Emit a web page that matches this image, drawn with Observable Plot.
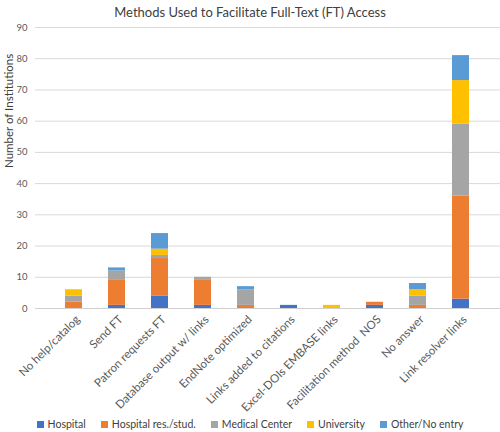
<!DOCTYPE html>
<html><head><meta charset="utf-8">
<script src="https://cdn.jsdelivr.net/npm/d3@7"></script>
<script src="https://cdn.jsdelivr.net/npm/@observablehq/plot@0.6"></script>
<style>
body{margin:0;background:#fff;font-family:Lato,"Open Sans",sans-serif;}
#wrap{width:500px;height:432px;position:relative;overflow:hidden;}
#title{height:22px;line-height:24px;text-align:center;font-size:13px;color:#404040;}
#legend{display:flex;justify-content:center;gap:15px;font-size:10.5px;color:#404040;margin-top:1px;}
#legend span.sw{display:inline-block;width:7px;height:7px;margin-right:4px;vertical-align:0px;}
</style></head>
<body><div id="wrap"><div id="title">Methods Used to Facilitate Full-Text (FT) Access</div><div id="chart"></div><div id="legend"></div></div>
<script>
const categories = ["No help/catalog","Send FT","Patron requests FT","Database output w/ links","EndNote optimized","Links added to citations","Excel-DOIs EMBASE links","Facilitation method  NOS","No answer","Link resolver links"];
const seriesNames = ["Hospital","Hospital res./stud.","Medical Center","University","Other/No entry"];
const seriesColors = ["#4472C4","#ED7D31","#A5A5A5","#FFC000","#5B9BD5"];
const hospital    = [0,1,4,1,0,1,0,1,0,3];
const hospitalRes = [2,8,12,8,1,0,0,1,1,33];
const medical     = [2,3,1,1,5,0,0,0,3,23];
const university  = [2,0,2,0,0,0,1,0,2,14];
const other       = [0,1,5,0,1,0,0,0,2,8];
const yTicks = [0,10,20,30,40,50,60,70,80,90];

const seriesValues = [hospital, hospitalRes, medical, university, other];
const data = [];
categories.forEach((c,i)=>seriesNames.forEach((s,j)=>data.push({category:c, series:s, value:seriesValues[j][i]})));

const chart = Plot.plot({
  width:500, height:395,
  marginTop:5, marginLeft:35, marginRight:0, marginBottom:109,
  style:{fontFamily:"Lato, 'Open Sans', sans-serif", fontSize:"10px", color:"#595959", overflow:"visible"},
  x:{domain:categories, padding:0.6, label:null},
  y:{domain:[0,90], label:null},
  color:{domain:seriesNames, range:seriesColors},
  marks:[
    Plot.gridY(yTicks,{stroke:"#d9d9d9", strokeOpacity:1}),
    Plot.ruleY([0],{stroke:"#d0d0d0"}),
    Plot.barY(data,{x:"category", y:"value", fill:"series", order:seriesNames, offset:null}),
    Plot.axisY(yTicks,{tickSize:0, tickPadding:8, label:null, fontSize:9.5}),
    Plot.axisX({tickSize:0, tickRotate:-45, tickPadding:9, label:null, fontSize:11.5, dx:4}),
    Plot.text(["Number of Institutions"],{frameAnchor:"left", rotate:-90, dx:-26, fontSize:11.5, fill:"#404040"})
  ]
});
document.getElementById("chart").appendChild(chart);
const lg = document.getElementById("legend");
seriesNames.forEach((s,i)=>{const d=document.createElement("div");d.innerHTML=`<span class="sw" style="background:${seriesColors[i]}"></span>${s}`;lg.appendChild(d);});
</script></body></html>
